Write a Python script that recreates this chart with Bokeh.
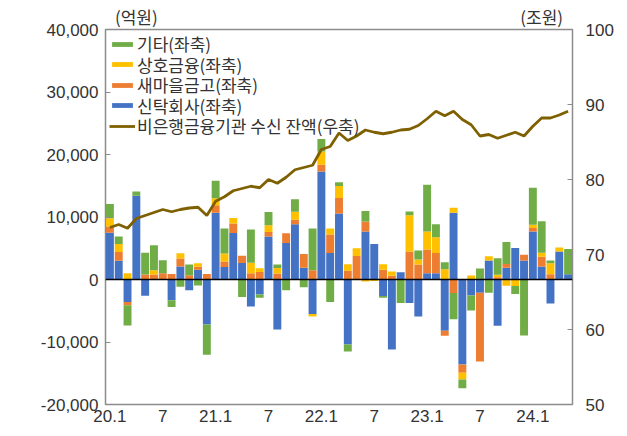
from bokeh.plotting import figure
from bokeh.models import (ColumnDataSource, Range1d, LinearAxis, FixedTicker,
                          NumeralTickFormatter, Span, Legend, LegendItem)
from bokeh.embed import file_html
from bokeh.resources import INLINE

# ---------------- data (억원 / 조원) ----------------
tick_pos = [0, 6, 12, 18, 24, 30, 36, 42, 48]
tick_labels = ["20.1", "7", "21.1", "7", "22.1", "7", "23.1", "7", "24.1"]
unit_labels = ["(억원)", "(조원)"]

trust = [7500, 3000, -3600, 13400, -2600, 0, 0, -3300, 2100, -1700,
         1550, -7200, 10700, 2000, 7450, 2650, -4300, -2400, 6900, -8000,
         5850, 8850, 1900, -5500, 17300, 4250, 10550, -10400, 0, 7700,
         5700, -2650, -11200, 1150, -3750, -5900, 1000, 1000, -8200, 10700,
         -13600, -2560, -2130, 3040, -7380, 1900, 5040, 3040, 7700, 2080,
         -3840, 4480, 850]
saemaul = [1000, 1400, -500, 0, 800, 800, 1000, 900, 1250, 700,
           500, 900, 1200, 900, 1500, 1150, 1000, 1200, 700, 950,
           1550, 700, 2200, 1500, 1050, 2950, 2500, 1400, 3750, 1600,
           0, 1550, 600, 0, 4500, 2400, 3800, 3250, -800, -2150,
           -1330, 0, -11000, 0, 370, 600, 0, 930, 530, 1550,
           850, 0, 0]
mutual = [1300, 1300, 1000, 0, 0, 700, 0, 0, 850, 0,
          550, 0, 1100, 1250, 900, 0, 1700, 600, 1100, 900,
          0, 1300, 0, -400, 2150, 950, 1900, 1050, 1250, -300,
          -250, 900, 700, 0, 5800, 800, 2900, 2500, 1650, 800,
          -1070, 640, 0, 690, 400, -1000, -1050, 0, 550, 650,
          1760, 640, 0]
other = [2300, 1200, -3250, 700, 3500, 4000, 2100, -1100, -1150, 1700,
         -950, -4850, 2800, 4000, 0, -2800, 5300, -500, 2100, 550,
         -1700, 2000, -1250, 6650, 2000, -3600, 600, -1100, 0, 1650,
         0, -250, 0, -3750, 600, 1450, 7450, 2100, 1100, -4200,
         -1400, -2400, 1750, -2130, 2650, 3500, -1280, -8950, 5900, 5050,
         430, 0, 4050]
balance = [73.6, 74.0, 73.5, 74.8, 75.2, 75.6, 76.0, 75.7, 76.0, 76.2,
           76.3, 75.2, 77.1, 77.7, 78.5, 78.8, 79.1, 78.9, 80.0, 79.5,
           80.3, 81.3, 81.6, 81.9, 84.0, 84.4, 86.2, 85.2, 85.8, 86.6,
           86.3, 86.1, 86.3, 86.6, 86.7, 87.2, 88.1, 89.1, 88.5, 89.1,
           88.0, 87.3, 85.8, 86.0, 85.5, 85.9, 86.3, 85.8, 87.1, 88.2,
           88.2, 88.6, 89.1]

names = ["trust", "saemaul", "mutual", "other"]
series = [trust, saemaul, mutual, other]
labels = ["신탁회사(좌축)", "새마을금고(좌축)", "상호금융(좌축)", "기타(좌축)"]
line_label = "비은행금융기관 수신 잔액(우축)"
colors = ["#4472C4", "#ED7D31", "#FFC000", "#70AD47"]
LINE_COLOR = "#7F6000"

x = list(range(len(trust)))
data = {"x": x, "bal": balance}
for n, s in zip(names, series):
    data[n + "_p"] = [max(v, 0) for v in s]
    data[n + "_n"] = [min(v, 0) for v in s]
src = ColumnDataSource(data)

KFONT = "Noto Sans CJK KR"
NFONT = "Liberation Sans"
TXT = "#333333"

p = figure(frame_width=467, frame_height=375, output_backend="svg",
           toolbar_location=None, x_range=Range1d(-0.5, len(x) - 0.5),
           y_range=Range1d(-20000, 40000),
           min_border_left=105, min_border_right=45, min_border_top=28,
           min_border_bottom=24)
p.xgrid.visible = False
p.ygrid.visible = False
p.outline_line_color = "#8C8C8C"
p.outline_line_width = 1.5
p.background_fill_color = "white"
p.border_fill_color = "white"

pos_r = p.vbar_stack([n + "_p" for n in names], x="x", width=0.9, color=colors,
                     line_color=None, source=src)
neg_r = p.vbar_stack([n + "_n" for n in names], x="x", width=0.9, color=colors,
                     line_color=None, source=src)

p.extra_y_ranges = {"right": Range1d(50, 100)}
line_r = p.line("x", "bal", source=src, y_range_name="right",
                line_color=LINE_COLOR, line_width=2.8)

p.add_layout(Span(location=0, dimension="width", line_color="black", line_width=1.5))

# axes
ax_l = p.yaxis[0]
ax_l.ticker = FixedTicker(ticks=[-20000, -10000, 0, 10000, 20000, 30000, 40000])
ax_l.formatter = NumeralTickFormatter(format="0,0")
ax_r = LinearAxis(y_range_name="right",
                  ticker=FixedTicker(ticks=[50, 60, 70, 80, 90, 100]))
p.add_layout(ax_r, "right")
for ax in (ax_l, ax_r):
    ax.axis_line_color = None
    ax.major_tick_in = 5
    ax.major_tick_out = 0
    ax.major_tick_line_color = "#8C8C8C"
    ax.minor_tick_line_color = None
    ax.major_label_text_font = NFONT
    ax.major_label_text_font_size = "17px"
    ax.major_label_text_color = TXT
ax_l.major_label_standoff = 7
ax_r.major_label_standoff = 13

ax_b = p.xaxis[0]
ax_b.ticker = FixedTicker(ticks=tick_pos)
ax_b.major_label_overrides = {t: l for t, l in zip(tick_pos, tick_labels)}

# unit labels as a tick-less axis above the frame
unit_ticks = [3, 49]
ax_t = LinearAxis(ticker=FixedTicker(ticks=unit_ticks),
                  major_label_overrides={t: l for t, l in zip(unit_ticks, unit_labels)})
p.add_layout(ax_t, "above")

for ax, font in ((ax_b, NFONT), (ax_t, KFONT)):
    ax.axis_line_color = None
    ax.major_tick_line_color = None
    ax.minor_tick_line_color = None
    ax.major_tick_in = 0
    ax.major_tick_out = 0
    ax.minor_tick_in = 0
    ax.minor_tick_out = 0
    ax.major_label_text_font = font
    ax.major_label_text_font_size = "17px"
    ax.major_label_text_color = TXT
ax_b.major_label_standoff = 5
ax_t.major_label_standoff = 1

# legend: one single-item legend per row for tight row spacing
leg_items = [(labels[3], pos_r[3]), (labels[2], pos_r[2]), (labels[1], pos_r[1]),
             (labels[0], pos_r[0]), (line_label, line_r)]
row_offsets = [348, 327.5, 307, 286.5, 266]
for (lab, rend), vy in zip(leg_items, row_offsets):
    leg = Legend(items=[LegendItem(label=lab, renderers=[rend])],
                 location=(4, vy), background_fill_alpha=0,
                 border_line_alpha=0, label_text_font=KFONT,
                 label_text_font_size="17px", label_text_color=TXT,
                 glyph_width=26, glyph_height=6, label_height=18, spacing=0,
                 padding=0, margin=0, label_standoff=2)
    p.add_layout(leg)

open("out.html", "w").write(file_html(p, INLINE))
